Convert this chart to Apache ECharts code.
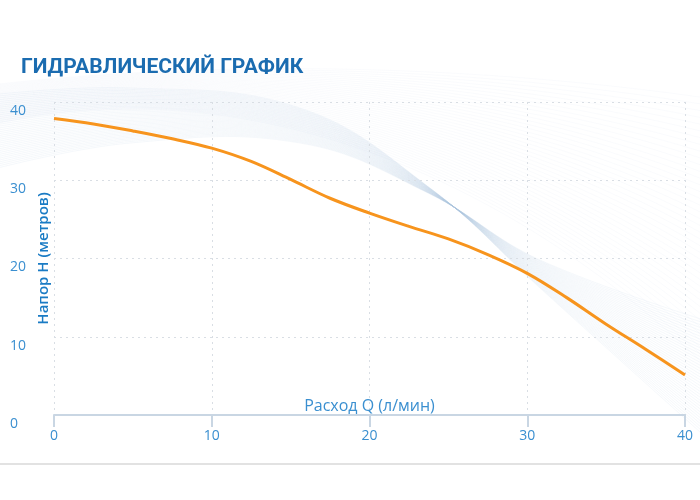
<!DOCTYPE html>
<html>
<head>
<meta charset="utf-8">
<script src="https://cdn.jsdelivr.net/npm/echarts@6/dist/echarts.min.js"></script>
<style>html,body{margin:0;padding:0;background:#fff;}#c{width:700px;height:500px;}</style>
</head>
<body>
<div id="c"></div>
<script>
var titleText = 'ГИДРАВЛИЧЕСКИЙ ГРАФИК';
var xName = 'Расход Q (л/мин)';
var yName = 'Напор Н (метров)';
var flowQ = [0, 2.5, 5, 7.5, 10, 12.5, 15, 17.5, 20, 22.5, 25, 27.5, 30, 32.5, 35, 37.5, 40];
var headH = [37.9, 37.2, 36.3, 35.3, 34.1, 32.4, 30.1, 27.7, 25.8, 24.1, 22.5, 20.5, 18.1, 15.0, 11.6, 8.4, 5.1];

var chart = echarts.init(document.getElementById('c'), null, {renderer: 'canvas'});

// decorative background swoosh (not data)
var deco = [];
var N = 40;
for (var i = 0; i < N; i++) {
  var t = i / (N - 1);
  deco.push({
    type: 'polyline', silent: true, z: -10,
    shape: {smooth: 0.4, points: [
      [-10, 95 + 75 * t], [130, 88 + 55 * t], [300, 108 + 35 * t],
      [430, 188 + 6 * t], [540, 288 - 28 * t], [720, 450 - 125 * t]
    ]},
    style: {fill: null, stroke: 'rgba(170,195,222,0.2)', lineWidth: 0.6}
  });
  deco.push({
    type: 'bezierCurve', silent: true, z: -10,
    shape: {x1: -10, y1: 85 + 40 * t, cpx1: 250, cpy1: 55 + 10 * t, cpx2: 520, cpy2: 70 + 110 * t, x2: 720, y2: 100 + 280 * t},
    style: {fill: null, stroke: 'rgba(170,195,222,0.12)', lineWidth: 0.5}
  });
}
deco.push({
  type: 'rect', silent: true, z: 0,
  shape: {x: 0, y: 463, width: 700, height: 2},
  style: {fill: '#e2e2e2'}
});

var labelColor = '#3a8fd0';
chart.setOption({
  animation: false,
  backgroundColor: '#fff',
  title: {
    text: titleText, left: 16, top: 52,
    textStyle: {fontFamily: 'Liberation Sans Narrow, Roboto, sans-serif', fontWeight: 'bold', fontSize: 21, color: '#1b6cb0'}
  },
  graphic: deco,
  grid: {left: 54, right: 15, top: 102, bottom: 85, outerBoundsMode: 'none', containLabel: false},
  xAxis: {
    type: 'value', min: 0, max: 40, interval: 10,
    name: xName, nameLocation: 'middle', nameGap: -9, nameMoveOverlap: false,
    nameTextStyle: {color: labelColor, fontSize: 16, fontFamily: 'Open Sans, sans-serif', verticalAlign: 'middle'},
    axisLine: {show: true, lineStyle: {color: '#c9d6e3', width: 2}},
    axisTick: {show: true, length: 12, lineStyle: {color: '#c9d6e3', width: 2}},
    axisLabel: {color: labelColor, fontSize: 14, margin: 14, fontFamily: 'Open Sans, sans-serif'},
    splitLine: {show: true, lineStyle: {color: '#d9dee4', type: [2, 4], width: 1}}
  },
  yAxis: {
    type: 'value', min: 0, max: 40, interval: 10,
    name: yName, nameLocation: 'middle', nameGap: 3, nameRotate: 90, nameMoveOverlap: false,
    nameTextStyle: {color: '#1a7bc4', fontSize: 15, fontWeight: 600, fontFamily: 'Open Sans, sans-serif', verticalAlign: 'bottom'},
    axisLine: {show: false},
    axisTick: {show: false},
    axisLabel: {color: labelColor, fontSize: 14, margin: 44, align: 'left', verticalAlign: 'top', padding: [2, 0, 0, 0], fontFamily: 'Open Sans, sans-serif'},
    splitLine: {show: true, lineStyle: {color: '#d9dee4', type: [2, 4], width: 1}}
  },
  series: [{
    type: 'line', smooth: 0.35, showSymbol: false, z: 5,
    data: flowQ.map(function (q, i) { return [q, headH[i]]; }),
    lineStyle: {color: '#f7941d', width: 3}
  }]
});
</script>
</body>
</html>
